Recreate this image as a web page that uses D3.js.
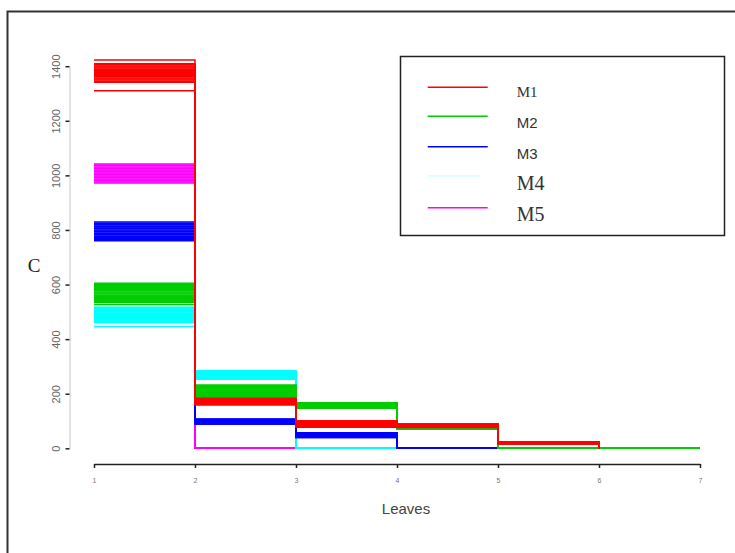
<!DOCTYPE html>
<html>
<head>
<meta charset="utf-8">
<script src="https://cdn.jsdelivr.net/npm/d3@7"></script>
<style>
  body { margin: 0; background: #fff; }
  svg { display: block; }
</style>
</head>
<body>
<div id="chart"></div>
<script>
// leaf counts on the x axis
var leaves = [1, 2, 3, 4, 5, 6, 7];
var yTicks = [0, 200, 400, 600, 800, 1000, 1200, 1400];
var seriesNames = ["M1", "M2", "M3", "M4", "M5"];
var seriesColors = ["#ff0000", "#00cd00", "#0000ff", "#00ffff", "#ff00ff"];
var legendColors = ["#ff0000", "#00cd00", "#0000ff", "#d4ffff", "#ff00ff"];

// every series is 20 runs; one array per leaf count with the value of each run.
// after its last non-zero leaf a run sits at 0 until the series' last leaf.
var m1 = [
  [1423, 1409, 1405, 1401, 1397, 1393, 1389, 1385, 1381, 1377, 1373, 1369, 1365, 1361, 1357, 1353, 1349, 1345, 1341, 1310],
  [183, 182, 181, 180, 179, 178, 177, 176, 175, 174, 173, 172, 171, 170, 169, 167, 165, 163, 161, 159],
  [101, 100, 99, 97, 96, 95, 94, 93, 92, 91, 89, 88, 87, 86, 85, 84, 83, 81, 79, 77],
  [89, 88, 88, 87, 87, 86, 86, 85, 84, 84, 83, 82, 82, 81, 80, 80, 79, 78, 77, 76],
  [24, 24, 23, 23, 22, 22, 21, 21, 21, 20, 20, 20, 19, 19, 18, 18, 17, 17, 16, 16]
];
var m2 = [
  [605, 601, 597, 593, 589, 585, 581, 577, 573, 569, 565, 561, 557, 553, 549, 545, 541, 538, 535, 527],
  [232, 229, 227, 224, 222, 219, 217, 214, 212, 209, 207, 204, 202, 199, 197, 194, 192, 189, 187, 184],
  [167, 166, 165, 164, 163, 162, 161, 160, 159, 158, 157, 156, 155, 154, 153, 152, 151, 150, 149, 147],
  [74, 74, 74, 73, 73, 73, 73, 72, 72, 72, 72, 72, 71, 71, 71, 71, 70, 70, 70, 70]
];
var m3 = [
  [829, 825, 821, 818, 814, 811, 807, 804, 800, 796, 793, 789, 786, 782, 778, 775, 771, 768, 764, 760],
  [107, 106, 105, 104, 103, 102, 101, 100, 99, 98, 97, 96, 95, 94, 93, 92, 91, 90, 89, 89],
  [57, 56, 55, 54, 53, 52, 51, 50, 49, 48, 47, 46, 45, 44, 43, 42, 42, 41, 40, 40]
];
var m4 = [
  [517, 514, 511, 508, 505, 502, 499, 496, 493, 490, 487, 484, 481, 478, 475, 472, 469, 465, 461, 446],
  [284, 282, 281, 279, 278, 276, 274, 273, 271, 269, 268, 266, 264, 263, 261, 259, 258, 256, 255, 253]
];
var m5 = [
  [1042, 1038, 1035, 1031, 1027, 1024, 1020, 1016, 1013, 1009, 1005, 1002, 998, 994, 991, 987, 983, 980, 976, 972]
];
var seriesData = [m1, m2, m3, m4, m5];
var lastLeaf = [6, 7, 5, 4, 3];

var svgWidth = 735,
    svgHeight = 553,
    x = d3.scaleLinear([1, 7], [94, 700]),
    y = d3.scaleLinear([0, 1400], [448.3, 66.2]);

var svg = d3.select("#chart").append("svg")
    .attr("width", svgWidth)
    .attr("height", svgHeight);

// outer frame, runs off the right and bottom edges
svg.append("rect")
    .attr("x", 7.5).attr("y", 11.5)
    .attr("width", 800).attr("height", 600)
    .attr("fill", "none")
    .attr("stroke", "#333")
    .attr("stroke-width", 2);

var line = d3.line()
    .x(function(d) { return x(d[0]); })
    .y(function(d) { return y(d[1]); })
    .curve(d3.curveStepAfter);

function runsOf(s) {
  var cols = seriesData[s];
  return d3.range(cols[0].length).map(function(r) {
    return leaves.filter(function(l) { return l <= lastLeaf[s]; })
      .map(function(l, i) { return [l, i < cols.length ? cols[i][r] : 0]; });
  });
}

// draw M5 first so M1 ends up on top
[4, 3, 2, 1, 0].forEach(function(s) {
  svg.append("g")
      .classed("series", true)
    .selectAll("path")
    .data(runsOf(s))
    .join("path")
      .attr("d", line)
      .attr("fill", "none")
      .attr("stroke", seriesColors[s])
      .attr("stroke-width", 1.5);
});

// x axis
var xAxis = svg.append("g")
    .attr("transform", "translate(0,464)")
    .call(d3.axisBottom(x).tickValues(leaves).tickFormat(d3.format("d"))
      .tickSizeInner(4).tickSizeOuter(0).tickPadding(10));
xAxis.select(".domain").attr("stroke", "#222").attr("stroke-width", 1.5);
xAxis.selectAll(".tick line").attr("stroke", "#222").attr("stroke-width", 1.5);
xAxis.selectAll(".tick text")
    .attr("fill", "#777")
    .style("font-family", "Liberation Sans, Arial, sans-serif")
    .style("font-size", "7px");

// y axis, labels turned sideways
var yAxis = svg.append("g")
    .attr("transform", "translate(69.5,0)")
    .call(d3.axisLeft(y).tickValues(yTicks).tickFormat(d3.format("d"))
      .tickSizeInner(4).tickSizeOuter(0));
yAxis.select(".domain").attr("stroke", "#c8c8c8").attr("stroke-width", 1);
yAxis.selectAll(".tick line").attr("stroke", "#222").attr("stroke-width", 1.5);
yAxis.selectAll(".tick text")
    .attr("transform", "rotate(-90)")
    .attr("x", 0)
    .attr("y", -12.8)
    .attr("dy", 0)
    .attr("dominant-baseline", "middle")
    .attr("text-anchor", "middle")
    .attr("fill", "#666")
    .style("font-family", "Liberation Sans, Arial, sans-serif")
    .style("font-size", "11px");

// axis titles
svg.append("text")
    .attr("x", 406)
    .attr("y", 514)
    .attr("text-anchor", "middle")
    .attr("fill", "#444")
    .style("font-family", "Liberation Sans, Arial, sans-serif")
    .style("font-size", "15px")
    .text("Leaves");

svg.append("text")
    .attr("x", 34)
    .attr("y", 272)
    .attr("text-anchor", "middle")
    .attr("fill", "#222")
    .style("font-family", "Liberation Serif, Times New Roman, serif")
    .style("font-size", "19px")
    .text("C");

// legend
var legend = svg.append("g").classed("legend", true);
legend.append("rect")
    .attr("x", 400.5).attr("y", 56.5)
    .attr("width", 324).attr("height", 179)
    .attr("fill", "#fff")
    .attr("stroke", "#222")
    .attr("stroke-width", 1.5);

var legendLineY = [87.3, 116.3, 146.7, 176, 207.7];
var legendTextY = [96.7, 128.3, 159, 190, 221];
var legendFont = [
  {family: "Liberation Serif, serif", size: "15px"},
  {family: "Liberation Sans, sans-serif", size: "15px"},
  {family: "Liberation Sans, sans-serif", size: "15px"},
  {family: "Liberation Serif, serif", size: "20px"},
  {family: "Liberation Serif, serif", size: "20px"}
];

seriesNames.forEach(function(name, i) {
  legend.append("line")
      .attr("x1", 427.7).attr("x2", i == 3 ? 480 : 487.7)
      .attr("y1", legendLineY[i]).attr("y2", legendLineY[i])
      .attr("stroke", legendColors[i])
      .attr("stroke-width", 1.6);
  legend.append("text")
      .attr("x", 516.7)
      .attr("y", legendTextY[i])
      .attr("fill", "#333")
      .style("font-family", legendFont[i].family)
      .style("font-size", legendFont[i].size)
      .text(name);
});
</script>
</body>
</html>
